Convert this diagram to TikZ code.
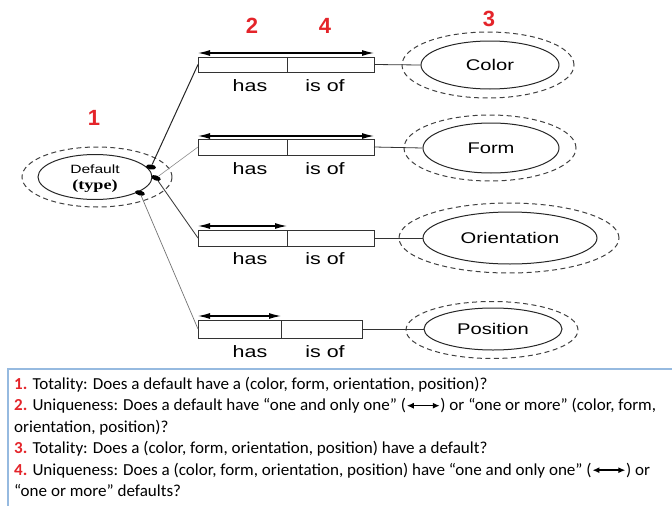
\documentclass[tikz,border=0pt]{standalone}
\usepackage{xcolor}
\usepackage{fontspec}
\usepackage{tikz}
\usetikzlibrary{arrows.meta}
\usetikzlibrary{positioning}
\usetikzlibrary{shapes.geometric}
\newfontfamily\diagfont[FakeStretch=1.3]{Liberation Sans}
\newfontfamily\typefont[FakeStretch=1.3]{Liberation Serif}
\newfontfamily\numfont{Liberation Sans}
\newfontfamily\notefont[FakeStretch=1.015]{Carlito}
\definecolor{numred}{RGB}{228,36,42}
\definecolor{boxblue}{RGB}{150,186,224}
\tikzset{>=latex}
\tikzstyle{cell} = [rectangle, draw=black!80, line width=0.9pt, inner sep=0, outer sep=0]
\tikzstyle{ent} = [ellipse, draw=black!85, line width=1pt, inner sep=0, font=\diagfont\fontsize{15.5}{18}\selectfont]
\tikzstyle{halo} = [ellipse, draw=black!75, line width=1pt, dash pattern=on 5pt off 3.5pt, inner sep=0]
\tikzstyle{lbl} = [font=\diagfont\fontsize{16.5}{18}\selectfont]
\tikzstyle{num} = [text=numred, font=\numfont\bfseries\fontsize{22}{22}\selectfont]
\tikzstyle{blob} = [ellipse, fill=black, inner sep=0, minimum width=10pt, minimum height=5pt]
\tikzstyle{card} = [{Latex[length=12pt,width=6pt]}-{Latex[length=12pt,width=6pt]}, line width=1.1pt]
\tikzstyle{note} = [anchor=base west, inner sep=0, font=\notefont\fontsize{16.8}{20}\selectfont]
\newcommand{\biarrow}{\tikz[baseline=-0.6ex]\draw[{Latex[length=7pt,width=6pt]}-{Latex[length=7pt,width=6pt]}, line width=1.4pt] (0pt,0pt) -- (33pt,0pt);}
\newcommand{\qn}[1]{\textcolor{numred}{\bfseries #1.}}

\begin{document}
\begin{tikzpicture}[x=1pt, y=-1pt]
\useasboundingbox (0,0) rectangle (672,506);
\clip (0,0) rectangle (672,506);

% default entity
\node [halo, minimum width=150pt, minimum height=60pt] (dfo) at (97,177) {};
\node [ent, minimum width=114pt, minimum height=45pt] (df) at (95,177) {};
\node [font=\diagfont\fontsize{12}{12}\selectfont] (dft) at (95,169) {Default};
\node [font=\typefont\bfseries\fontsize{14}{14}\selectfont] (dfy) at (95,186) {(type)};
\node [blob, rotate=-8] (d1) at (151,167) {};
\node [blob, rotate=-20] (d2) at (156,178) {};
\node [blob, rotate=-15] (d3) at (140,193) {};

% relation boxes
\node [cell, minimum width=89pt, minimum height=15pt] (b1a) at (242.5,64.5) {};
\node [cell, minimum width=87pt, minimum height=15pt, right=0pt of b1a] (b1b) {};
\node [cell, minimum width=89pt, minimum height=16pt] (b2a) at (242.5,147) {};
\node [cell, minimum width=87pt, minimum height=16pt, right=0pt of b2a] (b2b) {};
\node [cell, minimum width=89pt, minimum height=16pt] (b3a) at (242.5,238) {};
\node [cell, minimum width=87pt, minimum height=16pt, right=0pt of b3a] (b3b) {};
\node [cell, minimum width=83pt, minimum height=18pt] (b4a) at (239.5,329) {};
\node [cell, minimum width=81pt, minimum height=18pt, right=0pt of b4a] (b4b) {};

\node [lbl] (h1) at (250,86) {has};
\node [lbl] (i1) at (325,86) {is of};
\node [lbl] (h2) at (250,169) {has};
\node [lbl] (i2) at (325,169) {is of};
\node [lbl] (h3) at (250,259) {has};
\node [lbl] (i3) at (325,259) {is of};
\node [lbl] (h4) at (250,352) {has};
\node [lbl] (i4) at (325,352) {is of};

\draw [card] ([yshift=4pt]b1a.north west) to ([yshift=4pt]b1b.north east);
\draw [card] ([yshift=3pt]b2a.north west) to ([yshift=3pt]b2b.north east);
\draw [card] ([yshift=4pt]b3a.north west) to ([yshift=4pt]b3a.north east);
\draw [card] ([yshift=4pt]b4a.north west) to ([yshift=4pt]b4a.north east);

% attribute entities
\node [halo, minimum width=172pt, minimum height=66pt] (e1o) at (488,65) {};
\node [ent, minimum width=138pt, minimum height=48pt] (e1) at (490,65) {Color};
\node [halo, minimum width=172pt, minimum height=66pt] (e2o) at (490,148) {};
\node [ent, minimum width=136pt, minimum height=50pt] (e2) at (491,148) {Form};
\node [halo, minimum width=220pt, minimum height=70pt] (e3o) at (509,238) {};
\node [ent, minimum width=174pt, minimum height=52pt] (e3) at (510,238) {Orientation};
\node [halo, minimum width=172pt, minimum height=57pt] (e4o) at (492,330) {};
\node [ent, minimum width=138pt, minimum height=42pt] (e4) at (493,329) {Position};

% connectors
\draw [line width=1pt, black!85] (d1) to (b1a.west);
\draw [line width=0.6pt, black!45] (d2) to (b2a.west);
\draw [line width=0.9pt, black!75] (d2) to (b3a.west);
\draw [line width=0.7pt, black!55] (d3) to (b4a.west);
\draw [line width=0.8pt, black!80] (b1b.east) to (e1.west);
\draw [line width=0.8pt, black!80] (b2b.east) to (e2.west);
\draw [line width=0.8pt, black!80] (b3b.east) to (e3.west);
\draw [line width=0.8pt, black!80] (b4b.east) to (e4.west);

% question numbers
\node [num] (n1) at (94,118) {1};
\node [num] (n2) at (252,26) {2};
\node [num] (n4) at (325,26) {4};
\node [num] (n3) at (489,19) {3};

% legend
\draw [boxblue, line width=1.4pt] (8,700) -- (8,369) -- (700,369);
\node [note] (q1) at (14,389) {\qn{1} Totality: Does a default have a (color, form, orientation, position)?};
\node [note] (q2) at (14,410.5) {\qn{2} Uniqueness: Does a default have “one and only one” (\biarrow) or “one or more” (color, form,};
\node [note] (q3) at (14,432) {orientation, position)?};
\node [note] (q4) at (14,453.5) {\qn{3} Totality: Does a (color, form, orientation, position) have a default?};
\node [note] (q5) at (14,475) {\qn{4} Uniqueness: Does a (color, form, orientation, position) have “one and only one” (\biarrow) or};
\node [note] (q6) at (14,496.5) {“one or more” defaults?};
\end{tikzpicture}
\end{document}
